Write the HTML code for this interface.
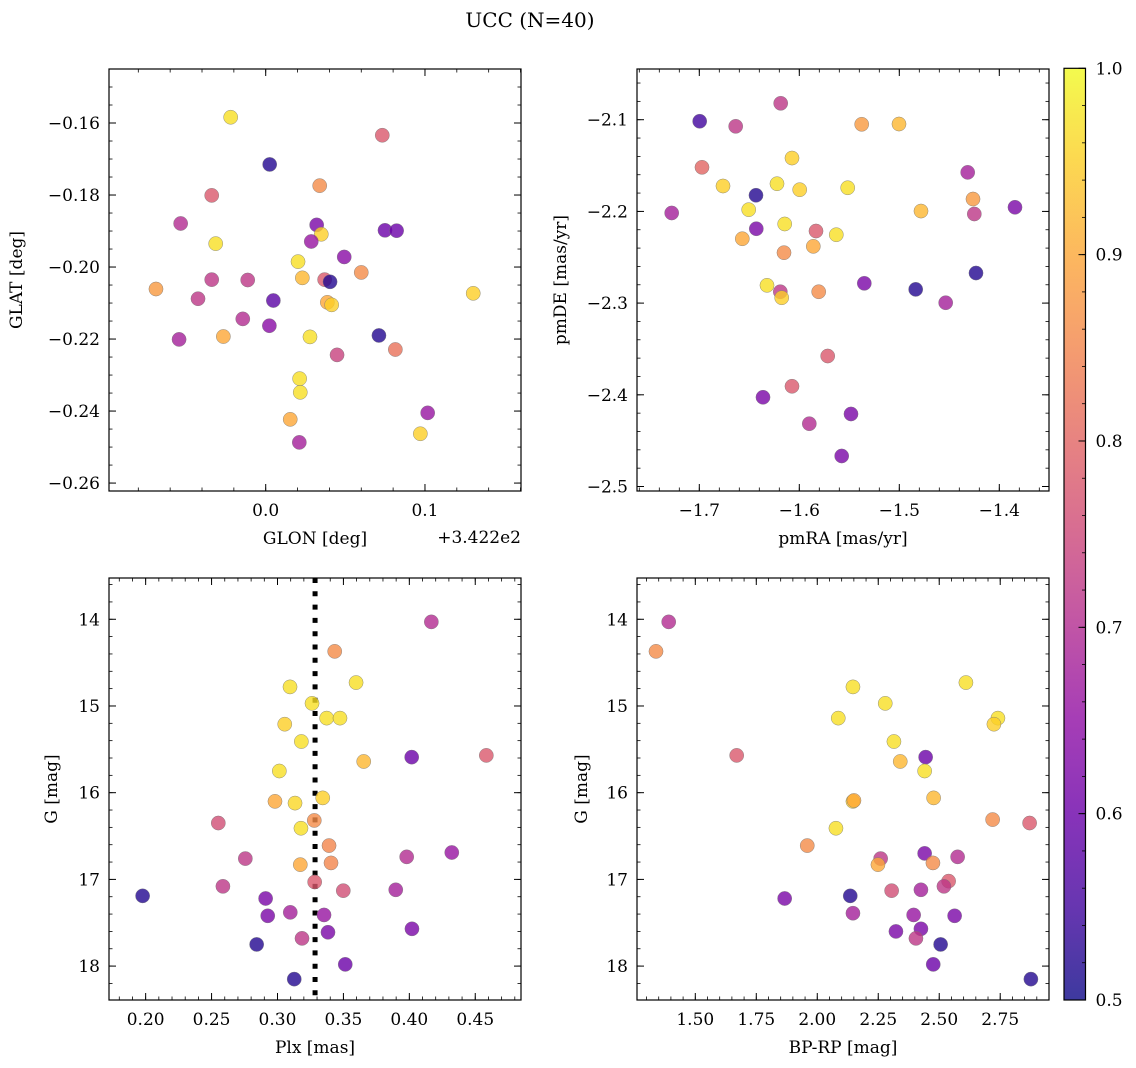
<!DOCTYPE html>
<html><head><meta charset="utf-8"><title>UCC (N=40)</title>
<style>
html,body{margin:0;padding:0;background:#fff;}
svg{display:block;font-family:"DejaVu Serif","Liberation Serif",serif;}
</style></head>
<body>
<svg id="fig" xmlns="http://www.w3.org/2000/svg" width="1136" height="1068" viewBox="0 0 1136 1068">
<text x="530" y="27" font-size="20" text-anchor="middle">UCC (N=40)</text>
</svg>
<script>
// ---- Panel 1: GLON vs GLAT ----
const glonVals=[-0.0220,0.0732,0.0025,0.0339,-0.0339,-0.0534,0.0320,0.0749,0.0822,0.0349,-0.0314,0.0286,0.0493,0.0203,0.0600,-0.0339,-0.0113,0.0230,0.0370,0.0404,-0.0689,-0.0425,0.0048,0.0387,0.0414,0.1303,-0.0144,0.0023,-0.0544,-0.0266,0.0278,0.0711,0.0814,0.0448,0.0213,0.0217,0.0154,0.0211,0.1017,0.0971];
const glatVals=[-0.1584,-0.1634,-0.1715,-0.1774,-0.1801,-0.1879,-0.1883,-0.1898,-0.1899,-0.1909,-0.1935,-0.1929,-0.1972,-0.1985,-0.2015,-0.2035,-0.2036,-0.2030,-0.2035,-0.2041,-0.2061,-0.2088,-0.2093,-0.2098,-0.2105,-0.2073,-0.2144,-0.2163,-0.2201,-0.2193,-0.2194,-0.2190,-0.2229,-0.2244,-0.2310,-0.2348,-0.2423,-0.2487,-0.2405,-0.2463];
const probP1=[0.97,0.78,0.52,0.86,0.78,0.70,0.62,0.60,0.60,0.95,0.97,0.66,0.64,0.97,0.86,0.72,0.72,0.92,0.78,0.52,0.88,0.72,0.58,0.90,0.95,0.95,0.70,0.64,0.68,0.90,0.97,0.52,0.82,0.74,0.97,0.97,0.90,0.68,0.66,0.95];
// ---- Panel 2: pmRA vs pmDE ----
const pmraVals=[-1.6186,-1.6996,-1.6636,-1.5376,-1.5003,-1.6973,-1.6073,-1.4316,-1.6763,-1.6223,-1.5996,-1.5516,-1.6433,-1.4263,-1.7276,-1.6506,-1.4783,-1.4250,-1.3843,-1.6430,-1.6146,-1.5833,-1.5630,-1.6570,-1.5860,-1.6153,-1.4233,-1.6323,-1.6190,-1.6176,-1.5806,-1.5350,-1.4836,-1.4536,-1.5716,-1.6073,-1.6363,-1.5483,-1.5900,-1.5576];
const pmdeVals=[-2.0821,-2.1017,-2.1072,-2.1050,-2.1047,-2.1519,-2.1418,-2.1574,-2.1723,-2.1698,-2.1763,-2.1742,-2.1824,-2.1865,-2.2017,-2.1981,-2.1996,-2.2028,-2.1955,-2.2189,-2.2137,-2.2214,-2.2254,-2.2298,-2.2381,-2.2450,-2.2672,-2.2806,-2.2876,-2.2941,-2.2876,-2.2784,-2.2850,-2.2996,-2.3577,-2.3907,-2.4027,-2.4209,-2.4315,-2.4667];
const probP2=[0.72,0.55,0.72,0.88,0.92,0.80,0.95,0.68,0.95,0.97,0.95,0.97,0.52,0.88,0.68,0.97,0.92,0.72,0.62,0.62,0.97,0.78,0.97,0.90,0.90,0.86,0.52,0.97,0.72,0.95,0.86,0.62,0.52,0.68,0.78,0.78,0.62,0.62,0.70,0.62];
// ---- Panel 3: Plx vs G ----
const plxVals=[0.4167,0.3434,0.3095,0.3596,0.3262,0.3373,0.3474,0.3055,0.3181,0.3654,0.4018,0.4584,0.3014,0.2981,0.3133,0.3343,0.2551,0.3279,0.3178,0.3391,0.2756,0.3173,0.3406,0.3980,0.4322,0.2586,0.1977,0.2910,0.3282,0.3499,0.3897,0.2926,0.3097,0.3353,0.4020,0.3383,0.3186,0.2842,0.3514,0.3127];
const gPlxVals=[14.03,14.37,14.78,14.73,14.97,15.14,15.14,15.21,15.41,15.64,15.59,15.57,15.75,16.10,16.12,16.06,16.35,16.32,16.41,16.61,16.76,16.83,16.81,16.74,16.69,17.08,17.19,17.22,17.03,17.13,17.12,17.42,17.38,17.41,17.57,17.61,17.68,17.75,17.98,18.15];
const probP3=[0.70,0.86,0.97,0.97,0.97,0.97,0.97,0.95,0.97,0.92,0.60,0.78,0.97,0.90,0.96,0.95,0.76,0.86,0.97,0.85,0.72,0.90,0.85,0.70,0.66,0.72,0.52,0.62,0.78,0.76,0.68,0.62,0.68,0.66,0.62,0.62,0.72,0.52,0.60,0.52];
const plxRef=[0.3285];
// ---- Panel 4: BP-RP vs G ----
const bprpVals=[1.3910,1.3389,2.1463,2.6094,2.2787,2.0861,2.7406,2.7242,2.3143,2.3402,2.4443,1.6697,2.4402,2.1463,2.1504,2.4770,2.0766,1.9590,2.7189,2.8705,2.2598,2.2488,2.4402,2.4742,2.5754,2.5385,2.5193,2.3049,2.4250,1.8664,2.1352,2.1463,2.3951,2.5631,2.3225,2.4250,2.4045,2.5057,2.4754,2.8758];
const gCmdVals=[14.03,14.37,14.78,14.73,14.97,15.14,15.14,15.21,15.41,15.64,15.59,15.57,15.75,16.10,16.09,16.06,16.41,16.61,16.31,16.35,16.76,16.83,16.70,16.81,16.74,17.02,17.08,17.13,17.12,17.22,17.19,17.39,17.41,17.42,17.60,17.57,17.68,17.75,17.98,18.15];
const probP4=[0.70,0.86,0.97,0.97,0.97,0.97,0.97,0.95,0.97,0.92,0.60,0.78,0.97,0.95,0.90,0.92,0.97,0.86,0.86,0.78,0.72,0.90,0.62,0.86,0.70,0.78,0.72,0.76,0.68,0.62,0.52,0.68,0.66,0.62,0.62,0.62,0.72,0.52,0.60,0.52];
// ---- ticks ----
const p1XTicks=[0.0,0.1], p1XLabels=["0.0","0.1"];
const p1YTicks=[-0.26,-0.24,-0.22,-0.20,-0.18,-0.16], p1YLabels=["−0.26","−0.24","−0.22","−0.20","−0.18","−0.16"];
const p2XTicks=[-1.7,-1.6,-1.5,-1.4], p2XLabels=["−1.7","−1.6","−1.5","−1.4"];
const p2YTicks=[-2.5,-2.4,-2.3,-2.2,-2.1], p2YLabels=["−2.5","−2.4","−2.3","−2.2","−2.1"];
const p3XTicks=[0.20,0.25,0.30,0.35,0.40,0.45], p3XLabels=["0.20","0.25","0.30","0.35","0.40","0.45"];
const gTicks=[14,15,16,17,18], gLabels=["14","15","16","17","18"];
const p4XTicks=[1.50,1.75,2.00,2.25,2.50,2.75], p4XLabels=["1.50","1.75","2.00","2.25","2.50","2.75"];
const cbTicks=[0.5,0.6,0.7,0.8,0.9,1.0], cbLabels=["0.5","0.6","0.7","0.8","0.9","1.0"];

const NS="http://www.w3.org/2000/svg";
const svg=document.getElementById('fig');
function mk(tag,attrs,parent){const e=document.createElementNS(NS,tag);for(const k in attrs)e.setAttribute(k,attrs[k]);(parent||svg).appendChild(e);return e;}
const stops=[[0,[13,8,135]],[0.1,[65,4,157]],[0.2,[106,0,168]],[0.3,[143,13,164]],[0.4,[177,42,144]],[0.5,[204,71,120]],[0.6,[225,100,98]],[0.7,[242,132,75]],[0.8,[252,166,54]],[0.9,[252,206,37]],[1,[240,249,33]]];
function plasma(t){t=Math.max(0,Math.min(1,t));for(let i=0;i<stops.length-1;i++){const a=stops[i],b=stops[i+1];if(t<=b[0]){const f=(t-a[0])/(b[0]-a[0]);return 'rgb('+a[1].map((v,j)=>Math.round(v+(b[1][j]-v)*f)).join(',')+')';}}return 'rgb(240,249,33)';}
function cnorm(p){return (p-0.5)/0.5;}
const FS=17;

function panel(cfg){
  const {L,R,T,B,x0,x1,y0,y1,inv,name}=cfg;
  const g=mk('g',{});
  
  
  const sx=v=>L+(v-x0)/(x1-x0)*(R-L);
  const sy=v=>inv?T+(v-y0)/(y1-y0)*(B-T):B-(v-y0)/(y1-y0)*(B-T);
  const mg=mk('g',{stroke:'#000','stroke-width':0.8},g);
  
  
  const xs=Math.ceil(x0/cfg.xm-1e-6);for(let k=xs;k*cfg.xm<=x1+1e-9;k++){const x=sx(k*cfg.xm);mk('line',{x1:x,x2:x,y1:B,y2:B-3.5},mg);mk('line',{x1:x,x2:x,y1:T,y2:T+3.5},mg);}
  const ys=Math.ceil(Math.min(y0,y1)/cfg.ym-1e-6);for(let k=ys;k*cfg.ym<=Math.max(y0,y1)+1e-9;k++){const y=sy(k*cfg.ym);mk('line',{x1:L,x2:L+3.5,y1:y,y2:y},mg);mk('line',{x1:R,x2:R-3.5,y1:y,y2:y},mg);}
  cfg.xt.forEach((v,i)=>{const x=sx(v);mk('line',{x1:x,x2:x,y1:B,y2:B-7,stroke:'#000','stroke-width':1},g);mk('line',{x1:x,x2:x,y1:T,y2:T+7,stroke:'#000','stroke-width':1},g);
    const t=mk('text',{x:x,y:B+25,'font-size':FS,'text-anchor':'middle'},g);t.textContent=cfg.xl[i];
    
    });
  cfg.yt.forEach((v,i)=>{const y=sy(v);mk('line',{x1:L,x2:L+7,y1:y,y2:y,stroke:'#000','stroke-width':1},g);mk('line',{x1:R,x2:R-7,y1:y,y2:y,stroke:'#000','stroke-width':1},g);
    const t=mk('text',{x:L-9,y:y+6,'font-size':FS,'text-anchor':'end'},g);t.textContent=cfg.yl[i];
    
    });
  if(cfg.vline!==undefined){const x=sx(cfg.vline);const l=mk('line',{x1:x,x2:x,y1:T,y2:B,stroke:'#000','stroke-width':5,'stroke-dasharray':'5 8.3'},g);
    
    }
  cfg.xv.forEach((v,i)=>{const c=mk('circle',{cx:sx(v),cy:sy(cfg.yv[i]),r:7.1,fill:plasma(cnorm(cfg.pv[i])),'fill-opacity':0.8,stroke:'#777','stroke-opacity':0.8,'stroke-width':0.5},g);
    
    });
  const fr=mk('rect',{x:L,y:T,width:R-L,height:B-T,fill:'none',stroke:'#000','stroke-width':1.2},g);
  
  
  const xl=mk('text',{x:(L+R)/2,y:B+53,'font-size':FS,'text-anchor':'middle'},g);xl.textContent=cfg.xlab;
  
  
  const yl=mk('text',{x:cfg.ylx,y:(T+B)/2,'font-size':FS,'text-anchor':'middle',transform:'rotate(-90 '+cfg.ylx+' '+((T+B)/2)+')'},g);yl.textContent=cfg.ylab;
  
  
}
panel({name:'panel-glon-glat',L:109,R:521,T:69,B:491,x0:-0.0984,x1:0.1603,y0:-0.2622,y1:-0.145,xm:0.02,ym:0.005,xt:p1XTicks,xl:p1XLabels,yt:p1YTicks,yl:p1YLabels,xv:glonVals,yv:glatVals,pv:probP1,xlab:'GLON [deg]',ylab:'GLAT [deg]',ylx:22});
panel({name:'panel-pm',L:637,R:1049,T:69,B:491,x0:-1.7623,x1:-1.3503,y0:-2.5049,y1:-2.0447,xm:0.02,ym:0.02,xt:p2XTicks,xl:p2XLabels,yt:p2YTicks,yl:p2YLabels,xv:pmraVals,yv:pmdeVals,pv:probP2,xlab:'pmRA [mas/yr]',ylab:'pmDE [mas/yr]',ylx:566});
panel({name:'panel-plx-g',L:109,R:521,T:578,B:1000,x0:0.1722,x1:0.4847,y0:13.524,y1:18.391,inv:true,xm:0.01,ym:0.2,xt:p3XTicks,xl:p3XLabels,yt:gTicks,yl:gLabels,xv:plxVals,yv:gPlxVals,pv:probP3,xlab:'Plx [mas]',ylab:'G [mag]',ylx:57,vline:plxRef[0]});
panel({name:'panel-cmd',L:637,R:1049,T:578,B:1000,x0:1.261,x1:2.950,y0:13.524,y1:18.391,inv:true,xm:0.05,ym:0.2,xt:p4XTicks,xl:p4XLabels,yt:gTicks,yl:gLabels,xv:bprpVals,yv:gCmdVals,pv:probP4,xlab:'BP-RP [mag]',ylab:'G [mag]',ylx:587});
const off=mk('text',{x:521,y:543,'font-size':FS,'text-anchor':'end'});off.textContent='+3.422e2';


const cbT=68.3,cbB=1000,cbL=1064,cbR=1085.5;
const defs=mk('defs',{});
const lg=mk('linearGradient',{id:'cbg',x1:0,y1:1,x2:0,y2:0},defs);
for(let i=0;i<=20;i++){mk('stop',{offset:i/20,'stop-color':plasma(i/20)},lg);}
const cbg=mk('g',{});


mk('rect',{x:cbL,y:cbT,width:cbR-cbL,height:cbB-cbT,fill:'url(#cbg)','fill-opacity':0.8},cbg);
const csy=v=>cbB-(v-0.5)/0.5*(cbB-cbT);
for(let k=25;k<=50;k++){const y=csy(k*0.02);mk('line',{x1:cbR,x2:cbR-3.5,y1:y,y2:y,stroke:'#000','stroke-width':0.8},cbg);}
cbTicks.forEach((v,i)=>{const y=csy(v);mk('line',{x1:cbR,x2:cbR-7,y1:y,y2:y,stroke:'#000','stroke-width':1},cbg);
  const t=mk('text',{x:cbR+10,y:y+6,'font-size':FS},cbg);t.textContent=cbLabels[i];
  
  });
mk('rect',{x:cbL,y:cbT,width:cbR-cbL,height:cbB-cbT,fill:'none',stroke:'#000','stroke-width':1.2},cbg);
</script>
</body></html>
